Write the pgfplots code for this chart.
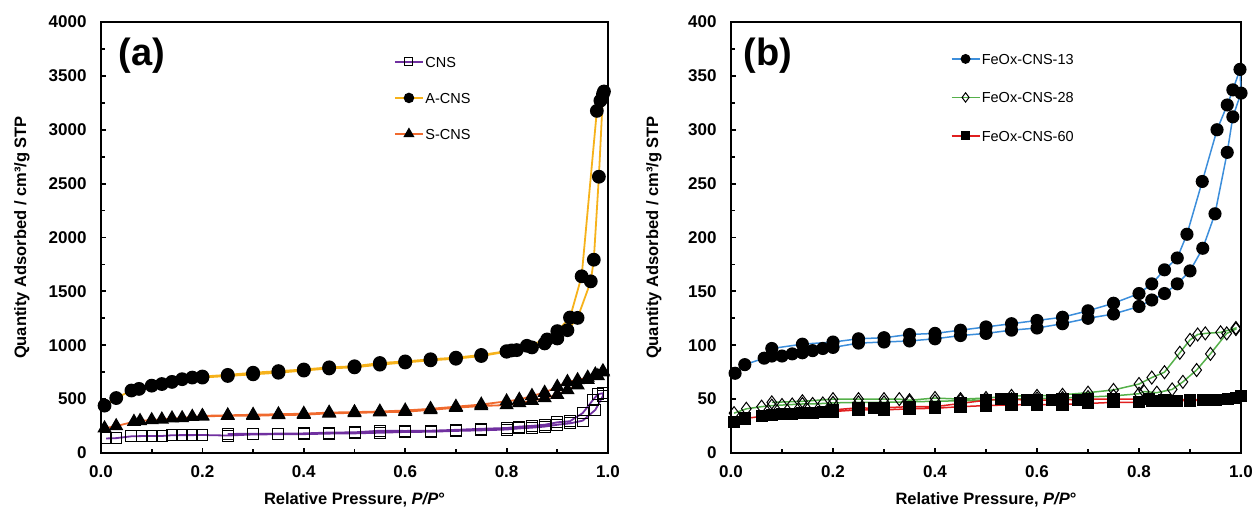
\documentclass[border=0pt]{standalone}
\usepackage{pgfplots}
\pgfplotsset{compat=1.18}
\usepackage{fontspec}
\setmainfont{Liberation Sans}

\definecolor{cnspurple}{HTML}{7030A0}
\definecolor{acnsgold}{HTML}{F6B21B}
\definecolor{scnsorange}{HTML}{F06A2E}
\definecolor{feblue}{HTML}{3C8EDB}
\definecolor{fegreen}{HTML}{55B04A}
\definecolor{fered}{HTML}{E01F1F}

\pgfplotsset{
  isotherm/.style={
    scale only axis, height=431pt,
    xmin=0, xmax=1, ymin=0, clip=false,
    axis line style={line width=2.4pt},
    tick align=inside, tick pos=left,
    major tick length=5pt, minor tick length=4pt,
    every tick/.style={black, line width=1.8pt},
    xtick={0,0.2,...,1}, minor x tick num=1, minor y tick num=1,
    scaled ticks=false,
    /pgf/number format/assume math mode=true,
    ticklabel style={font=\fontsize{17}{20}\selectfont\bfseries},
    xticklabel style={/pgf/number format/fixed, /pgf/number format/fixed zerofill,
      /pgf/number format/precision=1, yshift=-9pt},
    yticklabel style={/pgf/number format/fixed, /pgf/number format/set thousands separator={},
      xshift=-11pt},
    label style={font=\fontsize{16.5}{20}\selectfont\bfseries},
    xlabel={Relative Pressure, \textit{P/P}°},
    ylabel={Quantity Adsorbed / cm³/g STP},
    legend cell align=left,
    legend style={draw=none, fill=none, inner sep=0pt, outer sep=0pt,
      font=\fontsize{14.5}{17}\selectfont,
      nodes={inner sep=1.5pt, text height=10.5pt, text depth=0pt}},
    legend image code/.code={\draw[mark repeat=2, mark phase=2, ##1,
      every mark/.append style={scale=0.72}]
      plot coordinates {(0pt,0pt) (14pt,0pt) (28pt,0pt)};},
  },
}

\begin{document}
\begin{tikzpicture}
\useasboundingbox (-101pt,-54pt) rectangle (1151pt,453pt);

% (a) CNS, A-CNS, S-CNS
\begin{axis}[isotherm, width=507pt, ymax=4000, ytick={0,500,...,4000},
  xlabel style={at={(axis description cs:0.5,-0.108)}, anchor=center},
  ylabel style={at={(axis description cs:-0.156,0.5)}, anchor=center},
  legend style={at={(0.578,0.923)}, anchor=north west, row sep=22.5pt}]

\addplot[cnspurple, line width=1.8pt, mark=square, mark size=5.5pt,
  mark options={draw=black, line width=1pt, fill=none}] coordinates {
(0.010,135) (0.030,138) (0.060,155) (0.080,157) (0.100,158) (0.120,158)
(0.140,165) (0.160,166) (0.180,166) (0.200,167) (0.250,162) (0.300,172)
(0.350,174) (0.400,175) (0.450,180) (0.500,182) (0.550,188) (0.600,195)
(0.650,197) (0.700,205) (0.750,210) (0.800,218) (0.825,228) (0.850,235)
(0.875,245) (0.900,262) (0.925,275) (0.950,300) (0.975,400) (0.990,530)
(0.990,555) (0.980,545) (0.970,490) (0.950,370) (0.925,295) (0.900,285)
(0.875,262) (0.850,252) (0.825,245) (0.800,232) (0.750,225) (0.700,215)
(0.650,207) (0.600,205) (0.550,207) (0.500,192) (0.450,190) (0.400,182)
(0.350,180) (0.300,178) (0.250,177)
};
\addlegendentry{CNS}

\addplot[acnsgold, line width=1.8pt, mark=*, mark size=6pt,
  mark options={draw=black, fill=black}] coordinates {
(0.007,440) (0.030,510) (0.060,580) (0.075,595) (0.100,625) (0.120,640)
(0.140,660) (0.160,685) (0.180,700) (0.200,700) (0.250,715) (0.300,730)
(0.350,745) (0.400,765) (0.450,785) (0.500,795) (0.550,820) (0.600,840)
(0.650,860) (0.700,875) (0.750,900) (0.800,940) (0.820,955) (0.850,980)
(0.875,1017) (0.900,1063) (0.920,1140) (0.940,1254) (0.966,1593) (0.972,1794)
(0.982,2564) (0.990,3330)
(0.992,3355) (0.985,3270) (0.978,3175) (0.948,1640) (0.925,1257) (0.900,1131)
(0.880,1054) (0.840,995) (0.810,952) (0.800,945) (0.750,910) (0.700,885)
(0.650,870) (0.600,850) (0.550,835) (0.500,805) (0.450,795) (0.400,775)
(0.350,760) (0.300,745) (0.250,725) (0.200,710)
};
\addlegendentry{A-CNS}

\addplot[scnsorange, line width=1.8pt, mark=triangle*, mark size=6.5pt,
  mark options={draw=black, fill=black}] coordinates {
(0.007,230) (0.030,250) (0.065,290) (0.077,298) (0.100,306) (0.120,312)
(0.140,322) (0.160,324) (0.180,337) (0.200,340) (0.250,345) (0.300,345)
(0.350,352) (0.400,355) (0.450,368) (0.500,372) (0.550,378) (0.600,383)
(0.650,400) (0.700,420) (0.750,436) (0.800,445) (0.825,465) (0.850,485)
(0.875,510) (0.900,540) (0.920,585) (0.940,630) (0.960,680) (0.980,715)
(0.990,750)
(0.990,760) (0.975,730) (0.960,700) (0.940,677) (0.920,660) (0.900,615)
(0.875,560) (0.850,530) (0.825,495) (0.800,480) (0.750,450) (0.700,430)
(0.650,410) (0.600,395) (0.550,385) (0.500,380) (0.450,375) (0.400,365)
(0.350,360) (0.300,355) (0.250,350) (0.200,345)
};
\addlegendentry{S-CNS}

\node[font=\fontsize{38}{40}\selectfont\bfseries, anchor=west, inner sep=0pt]
  at (rel axis cs:0.035,0.923) {(a)};
\end{axis}

% (b) FeOx-CNS
\begin{axis}[isotherm, at={(630pt,0pt)}, width=510pt, ymax=400, ytick={0,50,...,400},
  xlabel style={at={(axis description cs:0.5,-0.108)}, anchor=center},
  ylabel style={at={(axis description cs:-0.151,0.5)}, anchor=center},
  legend style={at={(0.431,0.930)}, anchor=north west, row sep=25pt}]

\addplot[feblue, line width=1.5pt, mark=*, mark size=5.8pt,
  mark options={draw=black, fill=black}] coordinates {
(0.008,74) (0.027,82) (0.065,88) (0.080,90) (0.100,90) (0.120,92)
(0.140,93) (0.160,95) (0.180,97) (0.200,98) (0.250,102) (0.300,103)
(0.350,104) (0.400,106) (0.450,109) (0.500,111) (0.550,114) (0.600,116)
(0.650,120) (0.700,125) (0.750,129) (0.800,136) (0.825,142) (0.850,148)
(0.875,157) (0.900,169) (0.925,190) (0.949,222) (0.973,279) (0.984,312)
(1.000,334) (0.998,356)
(0.984,337) (0.973,323) (0.953,300) (0.924,252) (0.894,203) (0.875,181)
(0.850,170) (0.825,157) (0.800,148) (0.750,139) (0.700,132) (0.650,126)
(0.600,123) (0.550,120) (0.500,117) (0.450,114) (0.400,111) (0.350,110)
(0.300,107) (0.250,106) (0.200,103) (0.140,101) (0.080,97)
};
\addlegendentry{FeOx-CNS-13}

\addplot[fegreen, line width=1.5pt, mark=diamond, mark size=6.5pt,
  mark options={draw=black, line width=1pt, fill=white}] coordinates {
(0.006,37) (0.030,41) (0.060,43) (0.080,44) (0.100,44.5) (0.120,45)
(0.140,45.5) (0.160,45.5) (0.180,46) (0.200,46.5) (0.250,47) (0.300,47)
(0.350,47.5) (0.400,48) (0.450,48.5) (0.500,49) (0.550,50) (0.600,50.5)
(0.650,51) (0.700,52) (0.750,53) (0.800,55) (0.810,57) (0.835,56)
(0.865,59) (0.886,66) (0.913,77) (0.940,92) (0.972,111) (0.990,115)
(0.990,116) (0.960,112) (0.930,111) (0.915,110) (0.900,105) (0.880,93)
(0.850,75) (0.825,70) (0.800,64) (0.750,58.5) (0.700,56) (0.650,54)
(0.600,53) (0.550,53) (0.500,51) (0.450,50) (0.400,51) (0.350,49)
(0.330,50) (0.300,50) (0.250,50) (0.200,50) (0.140,48) (0.080,47)
};
\addlegendentry{FeOx-CNS-28}

\addplot[fered, line width=1.5pt, mark=square*, mark size=5.3pt,
  mark options={draw=black, fill=black}] coordinates {
(0.005,29) (0.027,32) (0.060,34) (0.080,35) (0.100,36) (0.120,36.5)
(0.140,37) (0.160,37.5) (0.180,38) (0.200,38.5) (0.250,40) (0.300,40)
(0.350,41) (0.400,41.5) (0.450,43) (0.500,44) (0.550,44.7) (0.600,45)
(0.650,45) (0.700,46) (0.750,47) (0.800,47) (0.825,48) (0.850,48)
(0.875,48.5) (0.900,48.5) (0.925,49) (0.950,49) (0.975,50) (0.990,51)
(1.000,53)
(0.975,50) (0.950,49.5) (0.925,49.5) (0.900,49.5) (0.850,49.5) (0.820,50)
(0.750,50) (0.700,50) (0.680,49) (0.650,50) (0.630,49) (0.600,49)
(0.580,49) (0.550,50) (0.530,50) (0.500,49) (0.450,46) (0.400,43)
(0.350,43) (0.300,42) (0.280,41.5) (0.250,42) (0.200,40)
};
\addlegendentry{FeOx-CNS-60}

\node[font=\fontsize{38}{40}\selectfont\bfseries, anchor=west, inner sep=0pt]
  at (rel axis cs:0.024,0.923) {(b)};
\end{axis}
\end{tikzpicture}
\end{document}
